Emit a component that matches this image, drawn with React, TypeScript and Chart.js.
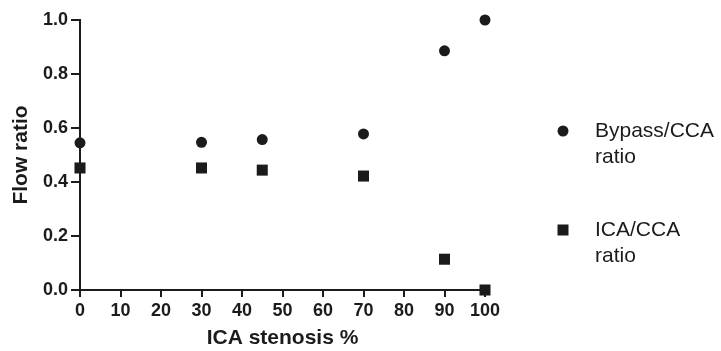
import React, { useEffect, useRef } from "react";
import { Chart, registerables } from "chart.js";

Chart.register(...registerables);

const stenosis = [0, 30, 45, 70, 90, 100];
const bypassRatio = [0.545, 0.547, 0.557, 0.578, 0.886, 1.0];
const icaRatio = [0.452, 0.452, 0.444, 0.422, 0.114, 0.0];
const seriesNames = [["Bypass/CCA", "ratio"], ["ICA/CCA", "ratio"]];
const xTitle = "ICA stenosis %";
const yTitle = "Flow ratio";

const INK = "#1b1b1b";
const FONT = "'Liberation Sans', Arial, sans-serif";

const legendPlugin = {
  id: "sideLegend",
  afterDraw(chart: any) {
    const ctx = chart.ctx;
    ctx.save();
    ctx.fillStyle = INK;
    ctx.font = `21px ${FONT}`;
    ctx.textBaseline = "middle";
    ctx.textAlign = "left";
    const entries = [
      { style: "circle", y: 131 },
      { style: "rect", y: 230 },
    ];
    entries.forEach((e, i) => {
      const mx = 563;
      if (e.style === "circle") {
        ctx.beginPath();
        ctx.arc(mx, e.y, 5.5, 0, Math.PI * 2);
        ctx.fill();
      } else {
        ctx.fillRect(mx - 5.5, e.y - 5.5, 11, 11);
      }
      seriesNames[i].forEach((line, j) => {
        ctx.fillText(line, 595, e.y + j * 26);
      });
    });
    ctx.restore();
  },
};

export default function App() {
  const ref = useRef<HTMLCanvasElement>(null);
  useEffect(() => {
    if (!ref.current) return;
    const chart = new Chart(ref.current, {
      type: "scatter",
      data: {
        datasets: [
          {
            label: seriesNames[0].join(" "),
            data: stenosis.map((x, i) => ({ x, y: bypassRatio[i] })),
            pointStyle: "circle",
            pointRadius: 5.5,
            backgroundColor: INK,
            borderColor: INK,
            borderWidth: 0,
            clip: false,
          },
          {
            label: seriesNames[1].join(" "),
            data: stenosis.map((x, i) => ({ x, y: icaRatio[i] })),
            pointStyle: "rect",
            pointRadius: 7.8,
            backgroundColor: INK,
            borderColor: INK,
            borderWidth: 0,
            clip: false,
          },
        ],
      },
      options: {
        animation: false,
        responsive: false,
        maintainAspectRatio: false,
        layout: { padding: { top: 20, right: 236, left: 9, bottom: 0 } },
        plugins: {
          legend: { display: false },
          tooltip: { enabled: false },
        },
        scales: {
          x: {
            type: "linear",
            min: 0,
            max: 100,
            ticks: {
              stepSize: 10,
              color: INK,
              font: { family: FONT, size: 18, weight: "bold" },
              padding: 3,
              maxRotation: 0,
            },
            grid: {
              display: true,
              drawOnChartArea: false,
              drawTicks: true,
              tickLength: 7,
              color: INK,
              lineWidth: 2,
            },
            border: { display: true, color: INK, width: 2 },
            title: {
              display: true,
              text: xTitle,
              color: INK,
              font: { family: FONT, size: 21, weight: "bold" },
              padding: { top: 2, bottom: 0 },
            },
            afterFit(scale: any) {
              scale.height = 61;
            },
          },
          y: {
            type: "linear",
            min: 0,
            max: 1.0,
            ticks: {
              stepSize: 0.2,
              color: INK,
              font: { family: FONT, size: 18, weight: "bold" },
              padding: 3,
              callback: (v: any) => Number(v).toFixed(1),
            },
            grid: {
              display: true,
              drawOnChartArea: false,
              drawTicks: true,
              tickLength: 9,
              color: INK,
              lineWidth: 2,
            },
            border: { display: true, color: INK, width: 2 },
            title: {
              display: true,
              text: yTitle,
              color: INK,
              font: { family: FONT, size: 21, weight: "bold" },
              padding: { top: 0, bottom: 6 },
            },
            afterFit(scale: any) {
              scale.width = 71;
            },
          },
        },
      },
      plugins: [legendPlugin],
    });
    return () => chart.destroy();
  }, []);
  return (
    <div style={{ position: "fixed", left: 0, top: 0, width: 721, height: 351, background: "#fff" }}>
      <canvas ref={ref} width={721} height={351} style={{ width: 721, height: 351 }} />
    </div>
  );
}
